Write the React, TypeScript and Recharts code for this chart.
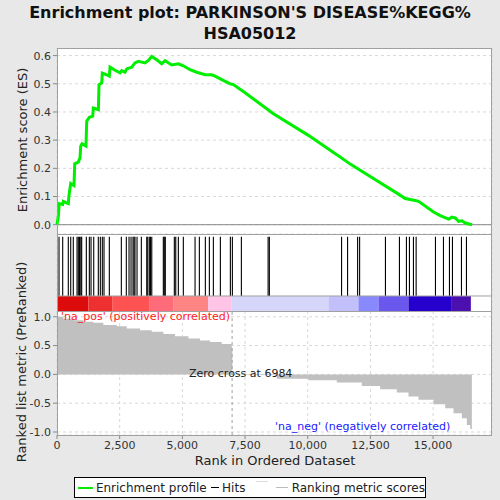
import React from 'react';
import {
  LineChart,
  Line,
  ComposedChart,
  Area,
  XAxis,
  YAxis,
  CartesianGrid,
  ReferenceLine,
  ReferenceArea,
} from 'recharts';

// running enrichment score
const esRanks = [
  0, 52, 90, 227, 250, 451, 479, 547, 678, 706, 850, 918, 946, 997, 1157, 1185, 1289, 1425, 1449,
  1649, 1676, 1784, 1808, 1984, 2087, 2115, 2314, 2514, 2581, 2713, 2780, 2980, 3112, 3245, 3511,
  3645, 3778, 3978, 4177, 4310, 4577, 4840, 5040, 5307, 5573, 5905, 6172, 6305, 6572, 6903, 7035,
  7502, 8632, 10029, 10897, 11296, 11695, 12493, 13558, 13889, 14288, 14421, 15020, 15287, 15618,
  15754, 15885, 16017, 16153, 16285, 16552,
];
const esValues = [
  0, 0.03, 0.075, 0.072, 0.083, 0.075, 0.105, 0.146, 0.139, 0.216, 0.222, 0.237, 0.279, 0.287,
  0.279, 0.367, 0.381, 0.385, 0.414, 0.408, 0.497, 0.503, 0.538, 0.532, 0.527, 0.559, 0.548, 0.539,
  0.547, 0.541, 0.553, 0.559, 0.574, 0.58, 0.574, 0.583, 0.597, 0.585, 0.571, 0.582, 0.567, 0.571,
  0.564, 0.55, 0.541, 0.532, 0.532, 0.527, 0.515, 0.5, 0.497, 0.468, 0.394, 0.317, 0.264, 0.24,
  0.215, 0.171, 0.112, 0.093, 0.086, 0.083, 0.045, 0.032, 0.02, 0.027, 0.024, 0.012, 0.014, 0.006,
  0,
];

// positions of the gene set members in the ranked list
const hitRanks = [
  80, 227, 451, 547, 650, 800, 850, 900, 950, 985, 1170, 1290, 1357, 1465, 1648, 1728, 1808, 1875,
  2087, 2566, 2765, 2873, 2953, 3032, 3072, 3110, 3192, 3364, 3579, 3620, 3683, 3730, 3780, 4241,
  4280, 4320, 4680, 4736, 4840, 5039, 5506, 5678, 5917, 6077, 6237, 6516, 6915, 6995, 7354, 8420,
  8470, 11350, 11590, 11990, 12070, 13100, 13658, 13937, 14057, 14217, 14324, 15095, 15414, 15653,
  15773, 16132, 16331,
];

// ranked list metric (step profile)
const metricRanks = [
  0, 253, 652, 1051, 1450, 1849, 2381, 2780, 3312, 3778, 4243, 4709, 5241, 5706, 6105, 6571, 6970,
  6996, 8765, 10029, 11159, 12157, 12888, 13553, 14019, 14418, 15016, 15482, 15814, 16147, 16346,
  16479, 16546,
];
const metricValues = [
  1.0, 0.965, 0.94, 0.913, 0.895, 0.855, 0.837, 0.797, 0.767, 0.738, 0.703, 0.663, 0.622, 0.587,
  0.564, 0.529, 0.46, -0.01, -0.075, -0.1, -0.14, -0.2, -0.256, -0.314, -0.384, -0.44, -0.52,
  -0.587, -0.674, -0.76, -0.88, -0.95, -0.98,
];

// colour bar under the hits
const barStarts = [0, 1250, 2200, 3700, 4630, 6030, 6970, 10826, 12024, 12822, 14018, 15748];
const barEnds = [1250, 2200, 3700, 4630, 6030, 6970, 10826, 12024, 12822, 14018, 15748, 16507];
const barColors = [
  '#dc0c0c', '#ee3030', '#ff5252', '#ff6b78', '#ff8585', '#ffc4e6', '#d6d6fa', '#c2c0fa',
  '#8888ff', '#6a58ee', '#2600cc', '#4c10b0',
];

const xTicks = [0, 2500, 5000, 7500, 10000, 12500, 15000];
const esTicks = [0, 0.1, 0.2, 0.3, 0.4, 0.5, 0.6];
const metricTicks = [-1, -0.5, 0, 0.5, 1];
const zeroCross = 6984;

const X_MAX = 17350;
const FONT = '"DejaVu Sans", sans-serif';
const tickStyle = { fontSize: 11, fill: '#333', fontFamily: FONT };

const esData = esRanks.map((r, i) => ({ rank: r, es: esValues[i] }));
const metricData = metricRanks.map((r, i) => ({ rank: r, metric: metricValues[i] }));
const hitData = hitRanks.map((r) => ({ rank: r, hit: 0.5 }));

const frame = (top: number, height: number): React.CSSProperties => ({
  position: 'absolute',
  left: 57,
  top,
  width: 435,
  height,
  border: '1px solid #a0a0a0',
  boxSizing: 'border-box',
  pointerEvents: 'none',
});

export default function App() {
  return (
    <div
      style={{
        position: 'absolute',
        left: 0,
        top: 0,
        width: 500,
        height: 500,
        background: '#e8e8e8',
        fontFamily: FONT,
        overflow: 'hidden',
      }}
    >
      <div
        style={{
          position: 'absolute',
          top: 2,
          left: 0,
          width: 500,
          textAlign: 'center',
          fontWeight: 'bold',
          fontSize: 16,
          lineHeight: '21px',
          color: '#111',
        }}
      >
        Enrichment plot: PARKINSON'S DISEASE%KEGG%
        <br />
        HSA05012
      </div>

      {/* enrichment score panel */}
      <div style={{ position: 'absolute', left: 0, top: 48 }}>
        <LineChart width={500} height={186} data={esData} margin={{ top: 0, right: 8, bottom: 0, left: 0 }}>
          <CartesianGrid stroke="#d8d8d8" strokeDasharray="3 3" fill="#fff" />
          <XAxis type="number" dataKey="rank" domain={[0, X_MAX]} ticks={xTicks} tick={false} axisLine={false} tickLine={false} height={0} />
          <YAxis type="number" domain={[-0.033, 0.627]} ticks={esTicks} width={57} tick={tickStyle} tickFormatter={(v) => Number(v).toFixed(1)} axisLine={false} tickSize={4} stroke="#888" />
          <ReferenceLine y={0} stroke="#888" strokeWidth={1} />
          <Line type="linear" dataKey="es" stroke="#00ee00" strokeWidth={3} dot={false} isAnimationActive={false} />
        </LineChart>
      </div>
      <div style={frame(48, 187)} />

      {/* hits + colour bar panel */}
      <div style={{ position: 'absolute', left: 0, top: 234 }}>
        <ComposedChart width={500} height={77} data={hitData} margin={{ top: 0, right: 8, bottom: 0, left: 0 }}>
          <CartesianGrid stroke="#d8d8d8" strokeDasharray="3 3" horizontal={false} fill="#fff" />
          <XAxis type="number" dataKey="rank" domain={[0, X_MAX]} ticks={xTicks} tick={false} axisLine={false} tickLine={false} height={0} />
          <YAxis type="number" domain={[0, 1]} width={57} tick={false} axisLine={false} tickLine={false} />
          <Line type="linear" dataKey="hit" stroke="none" strokeOpacity={0} dot={false} activeDot={false} isAnimationActive={false} />
          {barStarts.map((s, i) => (
            <ReferenceArea key={'c' + i} x1={s} x2={barEnds[i]} y1={0} y2={0.195} fill={barColors[i]} fillOpacity={1} stroke="none" ifOverflow="visible" />
          ))}
          {hitRanks.map((r) => (
            <ReferenceLine key={'h' + r} segment={[{ x: r, y: 0.195 }, { x: r, y: 0.965 }]} stroke="#000" strokeWidth={1.1} ifOverflow="visible" />
          ))}
          <ReferenceLine y={0.195} stroke="#a0a0a0" />
        </ComposedChart>
      </div>
      <div style={frame(234, 78)} />

      {/* ranked list metric panel */}
      <div style={{ position: 'absolute', left: 0, top: 311 }}>
        <ComposedChart width={500} height={154} data={metricData} margin={{ top: 0, right: 8, bottom: 0, left: 0 }}>
          <CartesianGrid stroke="#d8d8d8" strokeDasharray="3 3" fill="#fff" />
          <XAxis type="number" dataKey="rank" domain={[0, X_MAX]} ticks={xTicks} tick={tickStyle} tickFormatter={(v) => Number(v).toLocaleString('en-US')} axisLine={false} tickSize={4} stroke="#888" height={30} />
          <YAxis type="number" domain={[-1.052, 1.1]} ticks={metricTicks} width={57} tick={tickStyle} tickFormatter={(v) => Number(v).toFixed(1)} axisLine={false} tickSize={4} stroke="#888" />
          <Area type="stepAfter" dataKey="metric" baseValue={0} stroke="none" fill="#c0c0c0" fillOpacity={1} isAnimationActive={false} />
          <ReferenceLine x={zeroCross} stroke="#a0a0a0" strokeDasharray="3 3" />
        </ComposedChart>
      </div>
      <div style={frame(311, 125)} />

      <div style={{ position: 'absolute', left: 61, top: 310, fontSize: 11, color: '#ff2020', whiteSpace: 'nowrap' }}>
        'na_pos' (positively correlated)
      </div>
      <div style={{ position: 'absolute', left: 189, top: 367, fontSize: 11, color: '#222', whiteSpace: 'nowrap' }}>
        Zero cross at 6984
      </div>
      <div style={{ position: 'absolute', left: 275, top: 420, fontSize: 11, color: '#2020ff', whiteSpace: 'nowrap' }}>
        'na_neg' (negatively correlated)
      </div>

      <div style={{ position: 'absolute', left: 0, top: 453, width: 550, textAlign: 'center', fontSize: 13, color: '#222' }}>
        Rank in Ordered Dataset
      </div>
      <div
        style={{
          position: 'absolute',
          left: 22,
          top: 140,
          transform: 'translate(-50%, -50%) rotate(-90deg)',
          fontSize: 13,
          color: '#222',
          whiteSpace: 'nowrap',
        }}
      >
        Enrichment score (ES)
      </div>
      <div
        style={{
          position: 'absolute',
          left: 21,
          top: 362,
          transform: 'translate(-50%, -50%) rotate(-90deg)',
          fontSize: 13,
          color: '#222',
          whiteSpace: 'nowrap',
        }}
      >
        Ranked list metric (PreRanked)
      </div>

      {/* legend */}
      <div
        style={{
          position: 'absolute',
          left: 74,
          top: 477,
          width: 352,
          height: 21,
          border: '1px solid #000',
          boxSizing: 'border-box',
          background: '#fff',
          fontSize: 12,
          color: '#222',
          display: 'flex',
          alignItems: 'center',
          whiteSpace: 'nowrap',
        }}
      >
        <span style={{ display: 'inline-block', width: 16, height: 2, background: '#00ee00', marginLeft: 3, marginRight: 3 }} />
        <span>Enrichment profile</span>
        <span style={{ display: 'inline-block', width: 9, height: 1, background: '#000', marginLeft: 4, marginRight: 3 }} />
        <span>Hits</span>
        <span style={{ display: 'inline-block', width: 12, height: 1, background: '#ddd', marginLeft: 11, marginRight: 0, position: 'relative', top: -6 }} />
        <span style={{ display: 'inline-block', width: 13, height: 1, background: '#bbb', marginLeft: 8, marginRight: 4 }} />
        <span>Ranking metric scores</span>
      </div>
    </div>
  );
}
